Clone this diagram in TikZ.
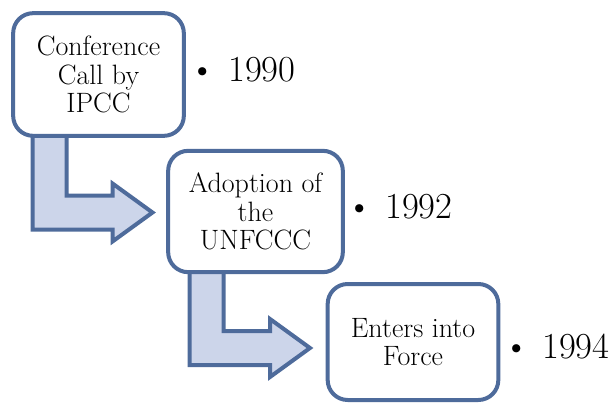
\documentclass[tikz,border=0pt]{standalone}
\usetikzlibrary{calc}
\definecolor{boxline}{RGB}{78,107,155}
\definecolor{arrowfill}{RGB}{204,213,234}
\tikzstyle{stagebox}=[rectangle,rounded corners=15pt,draw=boxline,line width=3pt,fill=white,align=center,inner sep=2pt,font=\fontsize{21}{21.5}\selectfont]
\tikzstyle{year}=[anchor=west,inner sep=0pt,font=\fontsize{27.5}{28}\selectfont]
\tikzstyle{blockarrow}=[draw=boxline,fill=arrowfill,line width=3pt,miter limit=4]

\begin{document}
\begin{tikzpicture}[x=0.75pt,y=-0.75pt]

    \useasboundingbox (0,0) rectangle (614,403);

     \foreach \x/\y/\name in {98.5/74.5/b1, 255.5/211.5/b2, 413/342/b3}
        \path (\x,\y) coordinate (\name c);

    % bent arrows first, the boxes go on top
    \foreach \src/\dst/\dy in {b1/b2/1, b2/b3/6}{
        \coordinate (tip) at ($(\dst c)+(-103,\dy)$);
        \coordinate (top) at ($(\src c)+(-66,55)$);
        \coordinate (top2) at ($(top)+(34,0)$);
        \coordinate (lo) at ($(tip)+(-40,17)$);
        \coordinate (lo2) at ($(tip)+(-40,29)$);
        \coordinate (hi) at ($(tip)+(-40,-17)$);
        \coordinate (hi2) at ($(tip)+(-40,-29)$);
        \filldraw[blockarrow] (top) -- (top |- lo) -- (lo) -- (lo2) -- (tip)
            -- (hi2) -- (hi) -- (top2 |- hi) -- (top2) -- cycle;
    }

     \foreach \x/\y/\w/\h/\name/\txt in {98.5/74.5/128/92/b1/{Conference\\Call by\\IPCC},
                                         255.5/211.5/131/91/b2/{Adoption of\\the\\UNFCCC},
                                         413/342/128/87/b3/{Enters into\\Force}}
        \node[stagebox, minimum width=\w pt, minimum height=\h pt] (\name) at (\x,\y) {\txt};

     \foreach \x/\y/\yr/\name in {189/70/1990/y1, 346/206.5/1992/y2, 503/346.5/1994/y3}
        \node[year] (\name) at (\x,\y) {\textbullet\hspace{9.5pt}\yr};

\end{tikzpicture}
\end{document}
